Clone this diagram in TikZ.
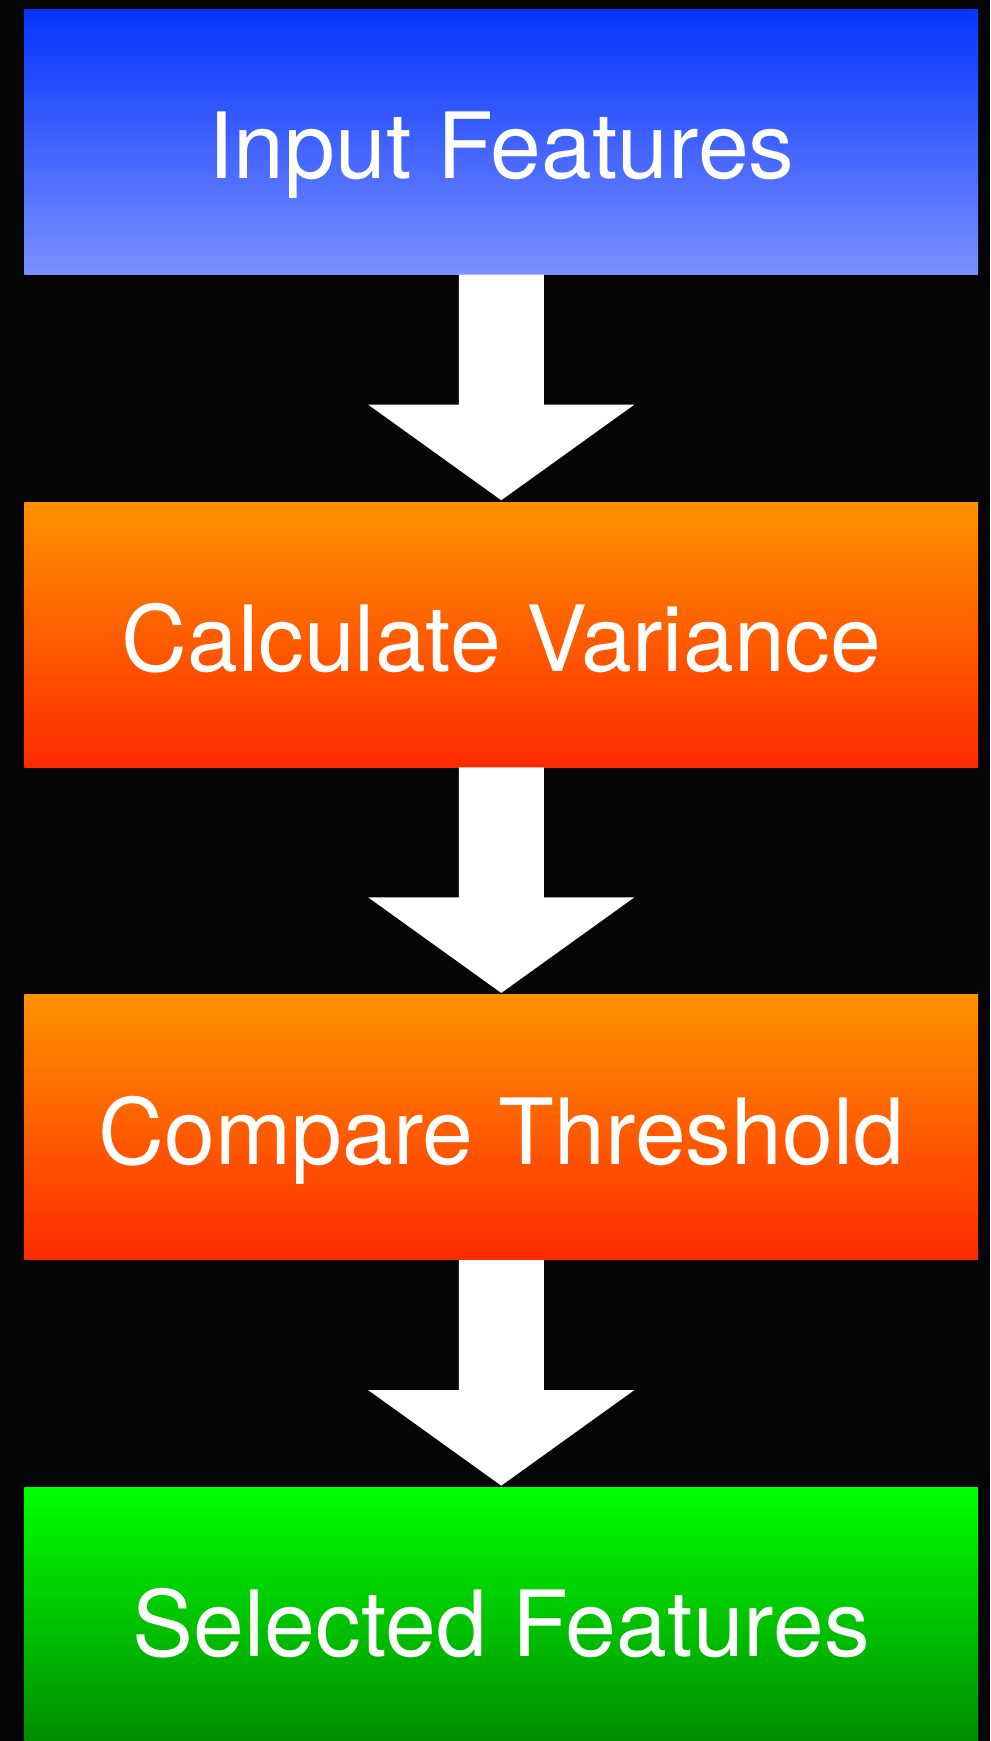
\documentclass[tikz,border=0pt]{standalone}
\usepackage{fontspec}
\setmainfont{TeX Gyre Heros}
\usetikzlibrary{positioning,calc}

\definecolor{bgblack}{HTML}{050505}
\definecolor{bluetop}{HTML}{0534FE}
\definecolor{bluebot}{HTML}{7A90FF}
\definecolor{orangetop}{HTML}{FF9200}
\definecolor{orangebot}{HTML}{FF2A00}
\definecolor{greentop}{HTML}{00FF00}
\definecolor{greenbot}{HTML}{008800}

% white block arrow from the bottom of one box to the top of the next
\newcommand{\blockarrow}[2]{%
  \fill[white] let \p1=(#1.south), \p2=(#2.north) in
    (\x1-0.85cm,\y1) -- (\x1+0.85cm,\y1) -- (\x1+0.85cm,\y2+1.94cm)
    -- (\x1+2.66cm,\y2+1.94cm) -- (\x1,\y2+0.03cm) -- (\x1-2.66cm,\y2+1.94cm)
    -- (\x1-0.85cm,\y2+1.94cm) -- cycle;}

\begin{document}
\begin{tikzpicture}[
  stage/.style={rectangle, minimum width=19.07cm, minimum height=5.3cm,
                inner sep=0pt, text=white, text height=42pt, text depth=0pt,
                font=\fontsize{52pt}{60pt}\selectfont},
  inbox/.style={stage, top color=bluetop, bottom color=bluebot},
  calcbox/.style={stage, top color=orangetop, bottom color=orangebot},
  outbox/.style={stage, top color=greentop, bottom color=greenbot},
  node distance=4.54cm,
]
\useasboundingbox (0,0) rectangle (19.8,-34.82);
\fill[bgblack] (0,0) rectangle (19.8,-34.82);

\node[inbox, anchor=north] (inp) at (10.025,-0.18) {Input Features};
\node[calcbox, below=of inp] (var) {Calculate Variance};
\node[calcbox, below=of var] (thr) {Compare Threshold};
\node[outbox, below=of thr]  (sel) {Selected Features};

\blockarrow{inp}{var}
\blockarrow{var}{thr}
\blockarrow{thr}{sel}
\end{tikzpicture}
\end{document}
